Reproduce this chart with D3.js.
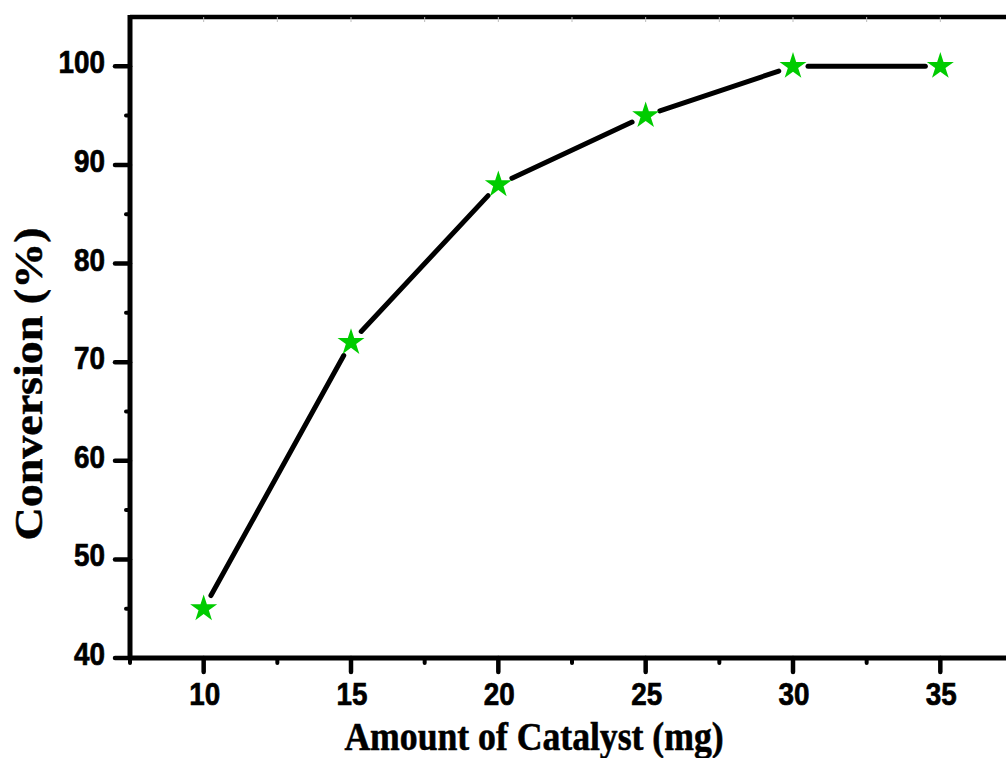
<!DOCTYPE html>
<html lang="en">
<head>
    <meta charset="UTF-8">
    <title>Conversion vs Amount of Catalyst</title>
    <script src="https://d3js.org/d3.v7.min.js"></script>
    <style>
        body {
            margin: 0;
            background: #fff;
        }
        svg {
            display: block;
        }
        .tick-label {
            font-family: "Liberation Sans", Arial, sans-serif;
            font-weight: bold;
            font-size: 32px;
            fill: #000;
            stroke: #000;
            stroke-width: 0.7px;
        }
        .axis-title {
            font-family: "Liberation Serif", "Times New Roman", serif;
            font-weight: bold;
            fill: #000;
            stroke: #000;
            stroke-width: 0.6px;
        }
    </style>
</head>
<body>
    <svg width="1006" height="758"></svg>

    <script>
        // data
        const catalystMg = [10, 15, 20, 25, 30, 35];
        const conversion = [45, 72, 88, 95, 100, 100];
        const xTicks = [10, 15, 20, 25, 30, 35];
        const xMinor = [7.5, 12.5, 17.5, 22.5, 27.5, 32.5, 37.5];
        const yTicks = [40, 50, 60, 70, 80, 90, 100];
        const yMinor = [45, 55, 65, 75, 85, 95];

        const svg = d3.select("svg");
        const pLeft = 130, pRight = 1014, pTop = 17, pBottom = 658;
        const squeeze = 0.87; // text in the original looks horizontally compressed

        const x = d3.scaleLinear().domain([7.5, 37.5]).range([pLeft, pRight]);
        const y = d3.scaleLinear().domain([40, 105]).range([pBottom, pTop]);

        // frame (top + right)
        svg.append("path")
            .attr("d", `M${pLeft},${pTop}H${pRight}V${pBottom}`)
            .attr("fill", "none")
            .attr("stroke", "#000")
            .attr("stroke-width", 4.5);

        // faint inner ticks on top border
        svg.append("g").selectAll("line")
            .data(xTicks.concat(xMinor))
            .enter().append("line")
            .attr("x1", d => x(d)).attr("x2", d => x(d))
            .attr("y1", pTop).attr("y2", pTop + 5)
            .attr("stroke", "#bbb").attr("stroke-width", 1);

        // y axis
        const yAxis = svg.append("g");
        yAxis.append("line")
            .attr("x1", pLeft).attr("x2", pLeft)
            .attr("y1", pTop - 2).attr("y2", pBottom + 2)
            .attr("stroke", "#000").attr("stroke-width", 5);
        yAxis.selectAll(".major")
            .data(yTicks)
            .enter().append("line")
            .attr("x1", pLeft - 15).attr("x2", pLeft)
            .attr("y1", d => y(d)).attr("y2", d => y(d))
            .attr("stroke", "#000").attr("stroke-width", 4.5)
            .attr("stroke-linecap", "round");
        yAxis.selectAll(".minor")
            .data(yMinor)
            .enter().append("line")
            .attr("x1", pLeft - 4).attr("x2", pLeft)
            .attr("y1", d => y(d)).attr("y2", d => y(d))
            .attr("stroke", "#000").attr("stroke-width", 4)
            .attr("stroke-linecap", "round");
        yAxis.selectAll("text")
            .data(yTicks)
            .enter().append("text")
            .attr("class", "tick-label")
            .attr("transform", d => `translate(105,${y(d) + 7}) scale(${squeeze},1)`)
            .attr("text-anchor", "end")
            .text(d => d);

        // x axis
        const xAxis = svg.append("g");
        xAxis.append("line")
            .attr("x1", pLeft - 2).attr("x2", pRight)
            .attr("y1", pBottom).attr("y2", pBottom)
            .attr("stroke", "#000").attr("stroke-width", 5);
        xAxis.selectAll(".major")
            .data(xTicks)
            .enter().append("line")
            .attr("x1", d => x(d)).attr("x2", d => x(d))
            .attr("y1", pBottom).attr("y2", pBottom + 14)
            .attr("stroke", "#000").attr("stroke-width", 4.5)
            .attr("stroke-linecap", "round");
        xAxis.selectAll(".minor")
            .data(xMinor)
            .enter().append("line")
            .attr("x1", d => x(d)).attr("x2", d => x(d))
            .attr("y1", pBottom).attr("y2", pBottom + 5)
            .attr("stroke", "#000").attr("stroke-width", 4)
            .attr("stroke-linecap", "round");
        xAxis.selectAll("text")
            .data(xTicks)
            .enter().append("text")
            .attr("class", "tick-label")
            .attr("transform", d => `translate(${x(d) + 1},705) scale(${squeeze},1)`)
            .attr("text-anchor", "middle")
            .text(d => d);

        // axis titles
        svg.append("text")
            .attr("class", "axis-title")
            .attr("transform", `translate(534,750) scale(${squeeze},1)`)
            .attr("text-anchor", "middle")
            .style("font-size", "41px")
            .text("Amount of Catalyst (mg)");

        svg.append("text")
            .attr("class", "axis-title")
            .attr("transform", `translate(42,384) scale(${squeeze},1) rotate(-90)`)
            .attr("text-anchor", "middle")
            .style("font-size", "46px")
            .text("Conversion (%)");

        // line segments with gaps near the symbols
        const pts = catalystMg.map((d, i) => [x(d), y(conversion[i])]);
        const gap = 15;
        const segs = d3.pairs(pts).map(([a, b]) => {
            const dx = b[0] - a[0], dy = b[1] - a[1];
            const len = Math.hypot(dx, dy);
            const ux = dx / len, uy = dy / len;
            return [a[0] + ux * gap, a[1] + uy * gap, b[0] - ux * gap, b[1] - uy * gap];
        });
        svg.append("g").selectAll("line")
            .data(segs)
            .enter().append("line")
            .attr("x1", d => d[0]).attr("y1", d => d[1])
            .attr("x2", d => d[2]).attr("y2", d => d[3])
            .attr("stroke", "#000")
            .attr("stroke-width", 5)
            .attr("stroke-linecap", "round");

        // star markers
        const star = d3.symbol().type(d3.symbolStar).size(226);
        svg.append("g").selectAll("path")
            .data(pts)
            .enter().append("path")
            .attr("d", star)
            .attr("transform", d => `translate(${d[0]},${d[1]})`)
            .attr("fill", "#00cc00");
    </script>
</body>
</html>
